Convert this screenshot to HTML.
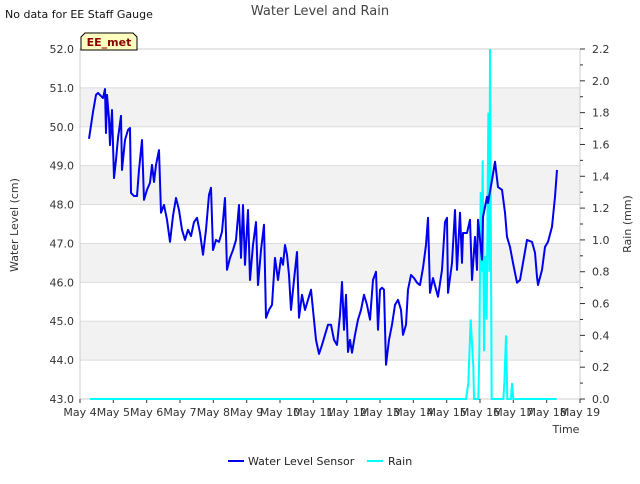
<!DOCTYPE html>
<html><head><meta charset="utf-8"><style>
body{margin:0;background:#fff;font-family:"DejaVu Sans","Liberation Sans",sans-serif;}
svg text{font-family:"DejaVu Sans","Liberation Sans",sans-serif;}
</style></head><body>
<svg id="c" width="640" height="480" xmlns="http://www.w3.org/2000/svg"></svg>
<script>
const levelDays=[0.27,0.39,0.48,0.54,0.63,0.69,0.75,0.78,0.81,0.87,0.90,0.96,1.02,1.08,1.14,1.23,1.26,1.35,1.44,1.50,1.53,1.62,1.71,1.77,1.86,1.92,2.01,2.10,2.16,2.22,2.28,2.37,2.43,2.52,2.61,2.70,2.79,2.88,2.97,3.06,3.15,3.24,3.33,3.42,3.51,3.60,3.69,3.78,3.87,3.93,3.99,4.08,4.17,4.26,4.35,4.41,4.50,4.59,4.68,4.77,4.83,4.89,4.95,5.04,5.10,5.19,5.28,5.34,5.43,5.52,5.58,5.67,5.76,5.85,5.94,6.03,6.09,6.15,6.21,6.27,6.33,6.42,6.51,6.57,6.66,6.75,6.84,6.93,6.99,7.08,7.17,7.26,7.35,7.44,7.53,7.62,7.71,7.80,7.86,7.92,7.98,8.04,8.10,8.16,8.25,8.34,8.43,8.52,8.61,8.70,8.79,8.88,8.94,9.00,9.06,9.12,9.18,9.27,9.36,9.45,9.54,9.63,9.69,9.78,9.84,9.93,10.02,10.11,10.20,10.29,10.38,10.44,10.50,10.59,10.74,10.86,10.95,11.01,11.04,11.16,11.25,11.31,11.40,11.46,11.49,11.61,11.70,11.76,11.85,11.91,11.94,12.06,12.09,12.21,12.24,12.36,12.45,12.54,12.66,12.75,12.81,12.90,12.99,13.11,13.20,13.29,13.41,13.56,13.65,13.71,13.74,13.86,13.95,14.04,14.16,14.25,14.31];
const levelValues=[49.69,50.38,50.82,50.87,50.79,50.74,50.97,49.84,50.82,50.20,49.53,50.43,48.68,49.15,49.71,50.28,48.89,49.66,49.92,49.97,48.30,48.22,48.22,48.89,49.66,48.12,48.38,48.56,49.02,48.58,49.02,49.40,47.79,47.99,47.61,47.04,47.71,48.17,47.86,47.35,47.09,47.35,47.19,47.55,47.66,47.27,46.71,47.35,48.25,48.43,46.83,47.09,47.04,47.30,48.17,46.32,46.63,46.83,47.09,47.99,46.63,47.99,46.45,47.86,46.06,46.96,47.55,45.93,46.83,47.48,45.09,45.29,45.42,46.63,46.06,46.63,46.45,46.96,46.71,46.19,45.29,46.06,46.78,45.09,45.68,45.29,45.55,45.81,45.29,44.52,44.16,44.39,44.65,44.91,44.91,44.52,44.39,45.16,46.01,44.78,45.68,44.21,44.52,44.19,44.65,45.04,45.29,45.68,45.42,45.04,46.06,46.27,44.78,45.81,45.86,45.81,43.88,44.52,44.91,45.42,45.55,45.29,44.65,44.91,45.81,46.19,46.11,45.99,45.93,46.37,46.96,47.66,45.73,46.11,45.63,46.32,47.55,47.66,45.73,46.50,47.86,46.32,47.79,46.50,47.27,47.27,47.61,46.06,47.17,46.32,47.61,46.58,47.68,48.20,48.04,48.63,49.10,48.45,48.38,47.79,47.17,46.91,46.50,45.99,46.06,46.50,47.09,47.04,46.76,46.14,45.93,46.32,46.91,47.04,47.43,48.20,48.89];
const rainDays=[0.3,11.58,11.65,11.72,11.80,11.82,11.95,11.98,12.02,12.05,12.08,12.12,12.15,12.20,12.25,12.28,12.30,12.35,12.70,12.73,12.78,12.82,12.93,12.96,13.00,14.3];
const rainValues=[0,0,0.1,0.5,0.2,0,0,0.3,1.3,0.8,1.5,0.3,0.9,0.5,1.8,0.8,2.2,0,0,0.1,0.4,0,0,0.1,0,0];
const xTickLabels=["May 4","May 5","May 6","May 7","May 8","May 9","May 10","May 11","May 12","May 13","May 14","May 15","May 16","May 17","May 18","May 19"];
const leftTicks=[43,44,45,46,47,48,49,50,51,52];
const rightTicks=[0,0.2,0.4,0.6,0.8,1.0,1.2,1.4,1.6,1.8,2.0,2.2];

const L=80,R=580,T=49,B=399;
const X=d=>L+d*(R-L)/15;
const Y=v=>B-(v-43)*(B-T)/9;
const Y2=v=>B-v*(B-T)/2.2;
const svg=document.getElementById('c');
const NS='http://www.w3.org/2000/svg';
function mk(tag,attrs,parent){const e=document.createElementNS(NS,tag);for(const k in attrs)e.setAttribute(k,attrs[k]);(parent||svg).appendChild(e);return e;}
function txt(s,attrs,name){const e=mk('text',attrs);e.textContent=s;

return e;}

for(const v of [44,46,48,50]){const r=mk('rect',{x:L,y:Y(v+1),width:R-L,height:Y(v)-Y(v+1),fill:'#f2f2f2'});

}
for(const v of leftTicks){const l=mk('line',{x1:L,x2:R,y1:Y(v),y2:Y(v),stroke:'#dcdcdc','stroke-width':1});

}
const fr=mk('rect',{x:L,y:T,width:R-L,height:B-T,fill:'none',stroke:'#cccccc'});



for(const v of leftTicks){txt(v.toFixed(1),{x:L-6,y:Y(v)+4,'text-anchor':'end','font-size':11,fill:'#333'},'y-tick-label');}
for(let i=0;i<=22;i++){const v=i/10;const y=Y2(v);const t=mk('line',{x1:R,x2:R+(i%2?3:5),y1:y,y2:y,stroke:'#333'});

}
for(const v of rightTicks){txt(v.toFixed(1),{x:R+12,y:Y2(v)+4,'font-size':11,fill:'#333'},'y2-tick-label');}
xTickLabels.forEach((s,i)=>{const x=X(i);const t=mk('line',{x1:x,x2:x,y1:B,y2:B+4,stroke:'#333'});


txt(s,{x:x,y:B+17,'text-anchor':'middle','font-size':11,fill:'#333'},'x-tick-label');});

const rp=mk('polyline',{points:rainDays.map((d,i)=>X(d)+','+Y2(rainValues[i])).join(' '),fill:'none',stroke:'#00ffff','stroke-width':2});


const lp=mk('polyline',{points:levelDays.map((d,i)=>X(d)+','+Y(levelValues[i])).join(' '),fill:'none',stroke:'#0000ee','stroke-width':2,'stroke-linejoin':'round'});



txt('Water Level and Rain',{x:320,y:15,'text-anchor':'middle','font-size':13,fill:'#444'},'chart-title');
txt('No data for EE Staff Gauge',{x:5,y:18,'font-size':11,fill:'#111'},'no-data-note');
txt('Water Level (cm)',{x:0,y:0,transform:'translate(18,225) rotate(-90)','text-anchor':'middle','font-size':11,fill:'#333'},'y-axis-title');
txt('Rain (mm)',{x:0,y:0,transform:'translate(631,224) rotate(-90)','text-anchor':'middle','font-size':11,fill:'#333'},'y2-axis-title');
txt('Time',{x:566,y:433,'text-anchor':'middle','font-size':11,fill:'#333'},'x-axis-title');

const tg=mk('path',{d:'M81,50 L81,37 L85,33 L133,33 L137,37 L137,50 Z',fill:'#ffffc0',stroke:'#000','stroke-width':1});


txt('EE_met',{x:109,y:46,'text-anchor':'middle','font-size':11,'font-weight':'bold',fill:'#8b0000'},'station-tag-label');

const l1=mk('line',{x1:228,x2:244,y1:461,y2:461,stroke:'#0000ee','stroke-width':2});


txt('Water Level Sensor',{x:248,y:465,'font-size':11,fill:'#222'},'legend-water-level-label');
const l2=mk('line',{x1:367,x2:383,y1:461,y2:461,stroke:'#00ffff','stroke-width':2});


txt('Rain',{x:388,y:465,'font-size':11,fill:'#222'},'legend-rain-label');
</script>
</body></html>
